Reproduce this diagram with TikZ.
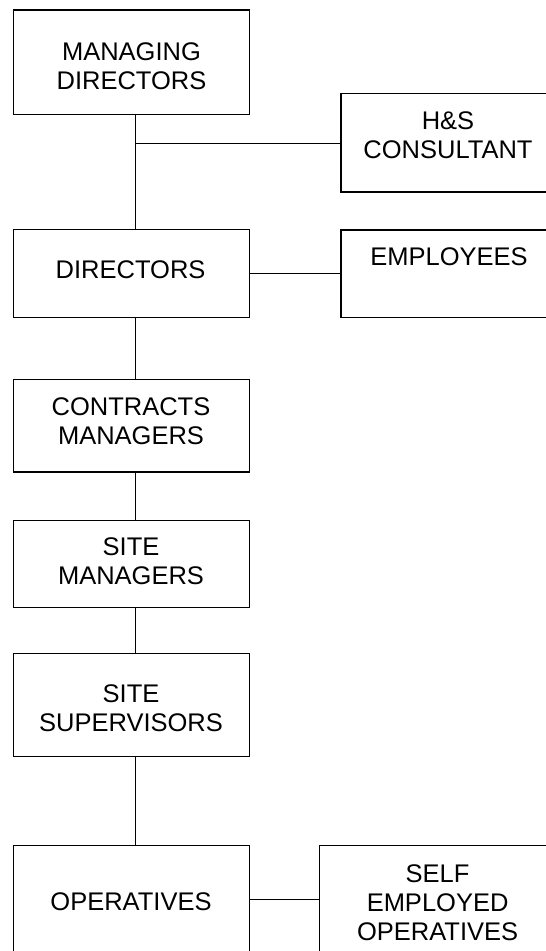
\documentclass[tikz,border=0pt]{standalone}
\usepackage{fontspec}
\setmainfont{Liberation Sans}
\begin{document}
\begin{tikzpicture}[x=1pt,y=-1pt,
  box/.style={draw, line width=1.2pt, inner sep=0pt, outer sep=0pt, anchor=north west},
  txt/.style={align=center, inner sep=0pt, font=\fontsize{25.5}{29}\selectfont},
  conn/.style={line width=1.2pt}]
\useasboundingbox (0,0) rectangle (546,951);
\clip (0,0) rectangle (546,951);
% boxes
\node[box, minimum width=236pt, minimum height=104.3pt] (md)  at (13.3,10) {};
\node[box, minimum width=214pt, minimum height=98.5pt]  (hs)  at (341,93.5) {};
\node[box, minimum width=236pt, minimum height=88.4pt]  (dir) at (13.3,229.3) {};
\node[box, minimum width=214pt, minimum height=87.7pt]  (emp) at (341,230) {};
\node[box, minimum width=236pt, minimum height=92.7pt]  (cm)  at (13.3,379.3) {};
\node[box, minimum width=236pt, minimum height=87pt]    (sm)  at (13.3,520.7) {};
\node[box, minimum width=236pt, minimum height=103.4pt] (ss)  at (13.3,653.3) {};
\node[box, minimum width=236pt, minimum height=107.5pt] (op)  at (13.3,845.7) {};
\node[box, minimum width=236pt, minimum height=107.5pt] (se)  at (319.6,845.7) {};
% texts
\node[txt] (mdt)  at (131.5,66)    {MANAGING\\DIRECTORS};
\node[txt] (hst)  at (448,135)     {H\&S\\CONSULTANT};
\node[txt] (dirt) at (130.6,270)   {DIRECTORS};
\node[txt] (empt) at (449,256.7)   {EMPLOYEES};
\node[txt] (cmt)  at (131,421)     {CONTRACTS\\MANAGERS};
\node[txt] (smt)  at (131,561)     {SITE\\MANAGERS};
\node[txt] (sst)  at (131,708.3)   {SITE\\SUPERVISORS};
\node[txt] (opt)  at (131,901.7)   {OPERATIVES};
\node[txt] (set)  at (437.6,902.5) {SELF\\EMPLOYED\\OPERATIVES};
% connectors
\coordinate (spine) at (135.7,0);
\coordinate (j1) at (135.7,143.5);
\draw[conn] (md.south -| spine) -- (dir.north -| spine);
\draw[conn] (j1) -- (hs.west |- j1);
\draw[conn] (dir.east) -- (dir.east -| emp.west);
\draw[conn] (dir.south -| spine) -- (cm.north -| spine);
\draw[conn] (cm.south -| spine) -- (sm.north -| spine);
\draw[conn] (sm.south -| spine) -- (ss.north -| spine);
\draw[conn] (ss.south -| spine) -- (op.north -| spine);
\draw[conn] (op.east) -- (op.east -| se.west);
\end{tikzpicture}
\end{document}
